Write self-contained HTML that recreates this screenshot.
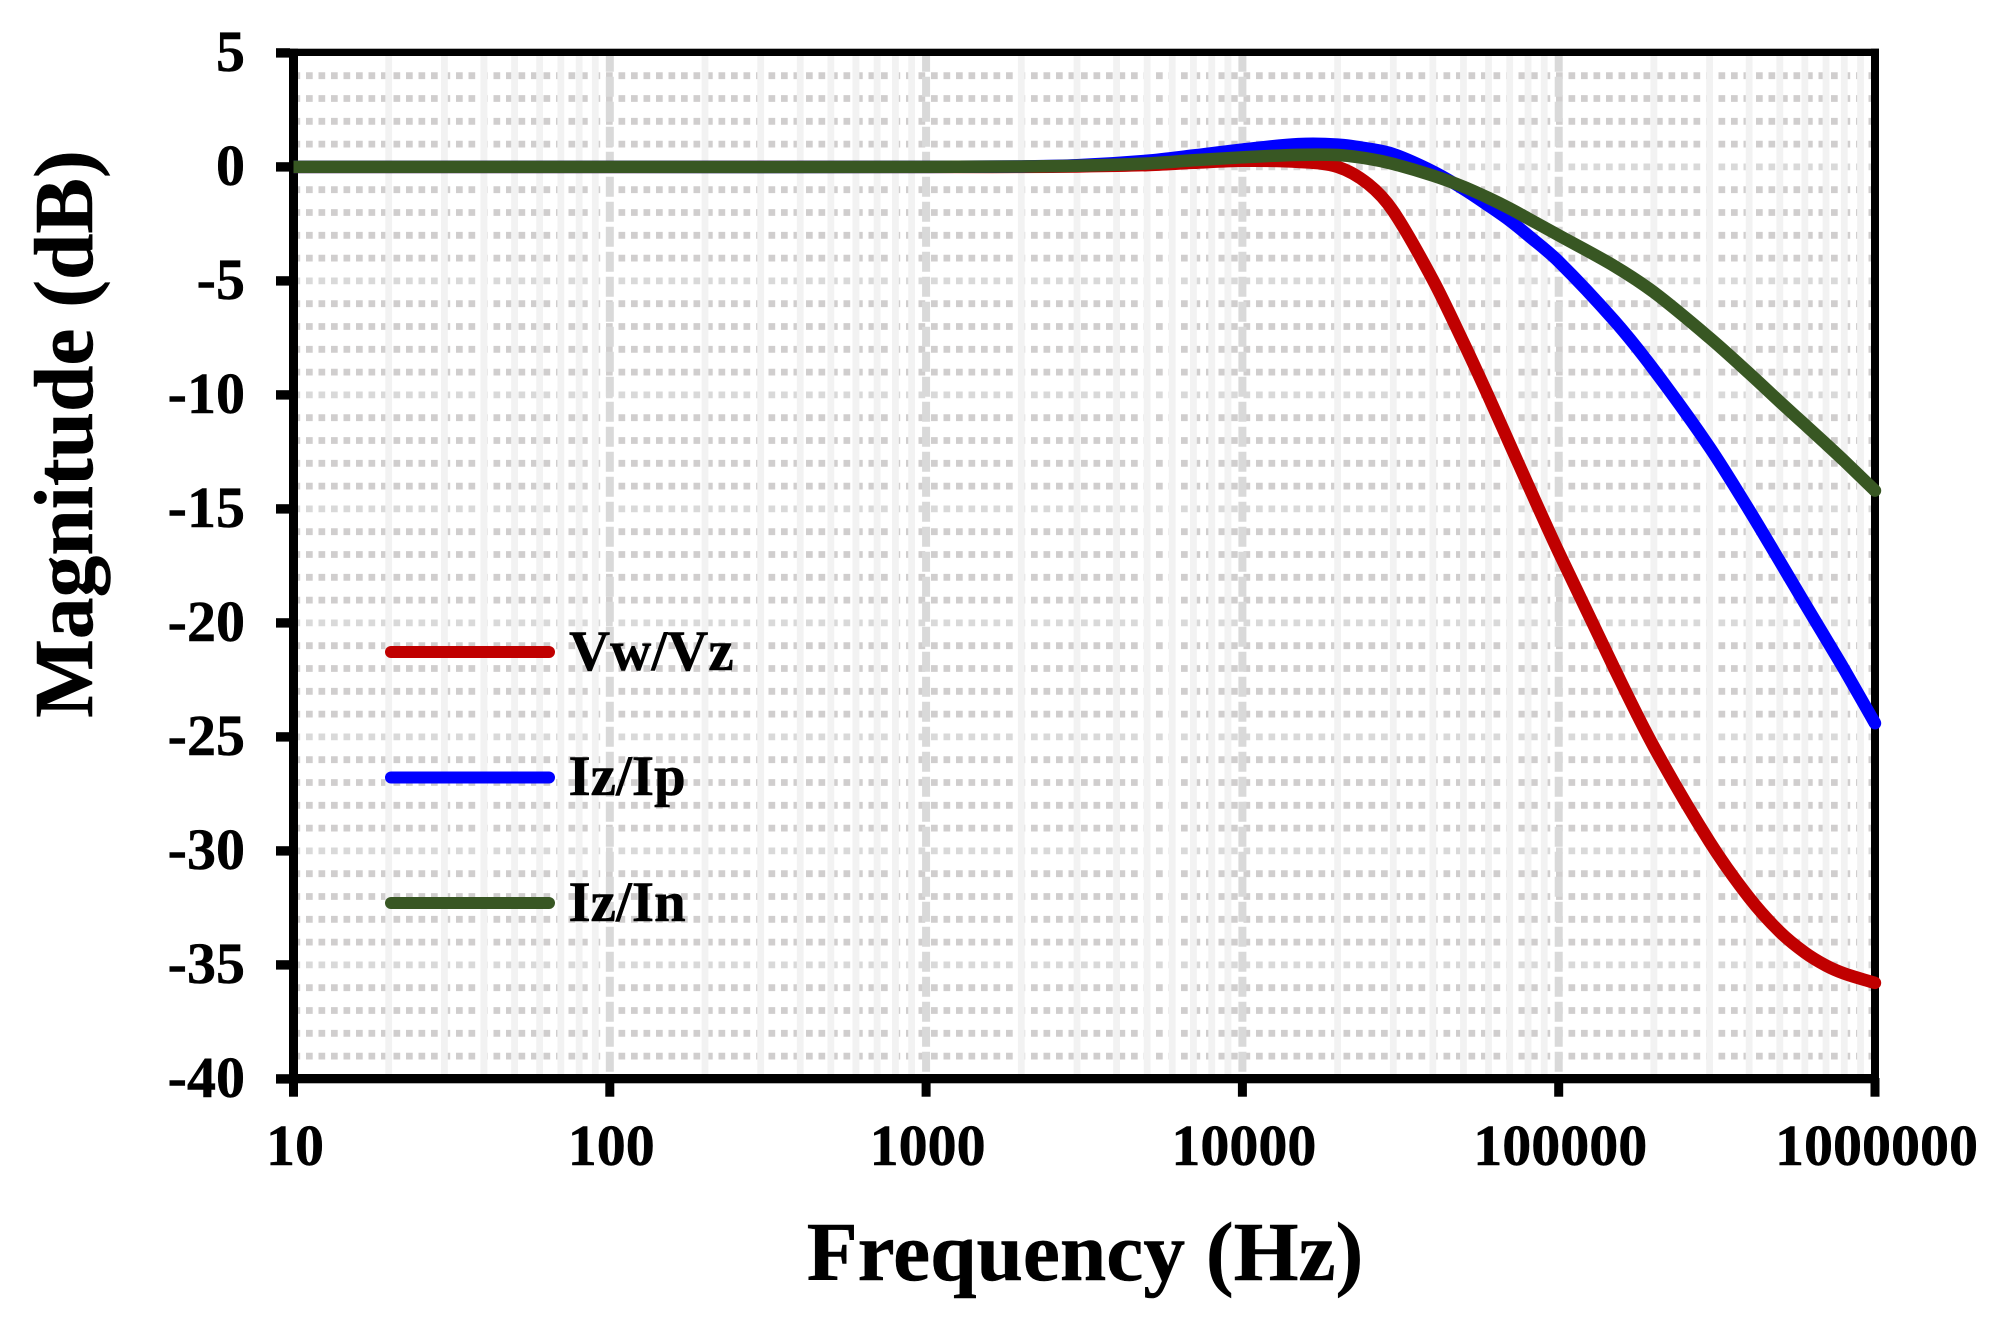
<!DOCTYPE html>
<html lang="en">
<head>
<meta charset="utf-8">
<title>Magnitude vs Frequency</title>
<style>
html,body{margin:0;padding:0;background:#fff;width:2013px;height:1331px;overflow:hidden}
svg{display:block}
text{font-family:"Liberation Serif",serif;font-weight:bold;fill:#000;stroke:#000;stroke-width:0.5px}
.tick-label{font-size:58px}
.legend-label{font-size:57px}
.axis-title{font-size:83.4px}
</style>
</head>
<body>
<svg id="chart" xmlns="http://www.w3.org/2000/svg" width="2013" height="1331" viewBox="0 0 2013 1331">
  <rect x="0" y="0" width="2013" height="1331" fill="#ffffff"/>
  <g id="grid-h"></g>
  <g id="grid-v"></g>
  <g id="axes"></g>
  <g id="labels"></g>
  <g id="series"></g>

  <g>
    <line x1="391" y1="652" x2="549" y2="652" stroke="#c00000" stroke-width="12" stroke-linecap="round"/>
    <text class="legend-label" x="569" y="670">Vw/Vz</text>
    <line x1="391" y1="777.5" x2="549" y2="777.5" stroke="#0000ff" stroke-width="12" stroke-linecap="round"/>
    <text class="legend-label" x="568.5" y="795">Iz/Ip</text>
    <line x1="391" y1="903" x2="549" y2="903" stroke="#385723" stroke-width="12" stroke-linecap="round"/>
    <text class="legend-label" x="568.5" y="921">Iz/In</text>
  </g>

  <text class="axis-title" x="1085" y="1280" text-anchor="middle">Frequency (Hz)</text>
  <text class="axis-title" transform="translate(92 434) rotate(-90)" text-anchor="middle">Magnitude (dB)</text>
</svg>

<script>
var frequencies = [10,100,1000,2000,3000,5000,7000,10000,15000,20000,25000,30000,40000,50000,60000,70000,80000,100000,150000,200000,300000,400000,500000,600000,700000,800000,1000000];
var vwVz = [0,0,0,0,0.02,0.08,0.18,0.27,0.22,0,-0.75,-1.95,-4.95,-7.7,-10.07,-12.15,-13.95,-16.9,-22,-25.44,-29.6,-32.05,-33.55,-34.46,-35.03,-35.38,-35.79];
var izIp = [0,0,0,0.02,0.07,0.27,0.5,0.76,1.0,0.98,0.8,0.56,-0.2,-0.97,-1.7,-2.35,-3,-4.15,-6.75,-8.9,-12.3,-15.05,-17.3,-19.15,-20.7,-22.05,-24.4];
var izIn = [0,0,0,0.02,0.05,0.15,0.29,0.42,0.53,0.52,0.36,0.13,-0.38,-0.87,-1.36,-1.82,-2.26,-3,-4.35,-5.5,-7.5,-9.05,-10.3,-11.3,-12.15,-12.9,-14.2];
var xTickLabels = ["10","100","1000","10000","100000","1000000"];
var yTickLabels = ["5","0","-5","-10","-15","-20","-25","-30","-35","-40"];

var NS = "http://www.w3.org/2000/svg";
function xScale(f){ return 293.5 + (Math.log10(f) - 1) * 316.3; }
function yScale(db){ return 166.9 - db * 22.8; }

function mk(parent, tag, attrs){
  var el = document.createElementNS(NS, tag);
  for (var k in attrs) el.setAttribute(k, attrs[k]);
  parent.appendChild(el);
  return el;
}

var gridH = document.getElementById("grid-h");
var gridV = document.getElementById("grid-v");
var axes = document.getElementById("axes");
var labels = document.getElementById("labels");
var seriesGroup = document.getElementById("series");

/* horizontal dotted gridlines every 1 dB */
for (var d = 4; d >= -39; d--) {
  var hl = mk(gridH, "line", {x1:293.5, x2:1871, y1:yScale(d), y2:yScale(d), stroke:(d % 5 === 0 ? "#d9d9d9" : "#d0cece"), "stroke-width":6.8, "stroke-dasharray":"6.7 5.8"});
  
  
}

/* minor vertical gridlines */
for (var e = 1; e < 6; e++) {
  for (var m = 2; m <= 9; m++) {
    var fm = m * Math.pow(10, e);
    var vl = mk(gridV, "line", {x1:xScale(fm), x2:xScale(fm), y1:56, y2:1074, stroke:"#f2f2f2", "stroke-width":6.8});
    
    
  }
}
/* major vertical gridlines */
for (var e2 = 2; e2 < 6; e2++) {
  var fM = Math.pow(10, e2);
  var vM = mk(gridV, "line", {x1:xScale(fM), x2:xScale(fM), y1:51.7, y2:1074, stroke:"#d9d9d9", "stroke-width":8, "stroke-dasharray":"20 5"});
  
  
}

/* frame */
var frameParts = [
  ["top-spine", 289, 48.7, 1590, 7.3],
  ["bottom-spine", 289, 1074, 1590, 9.3],
  ["left-spine", 289, 48.7, 9, 1034.6],
  ["right-spine", 1871, 48.7, 8, 1034.6]
];
frameParts.forEach(function(p){
  var r = mk(axes, "rect", {x:p[1], y:p[2], width:p[3], height:p[4], fill:"#000"});
  
  
});

/* y ticks + labels */
yTickLabels.forEach(function(lbl){
  var v = parseFloat(lbl);
  var yy = yScale(v);
  var t = mk(axes, "rect", {x:276, y:yy - 4.7, width:14, height:9.4, fill:"#000"});
  
  
  var tx = mk(labels, "text", {x:245, y:yy + 18, "text-anchor":"end", "class":"tick-label"});
  
  
  tx.textContent = lbl;
});

/* x ticks + labels */
xTickLabels.forEach(function(lbl){
  var xx = xScale(parseFloat(lbl));
  var t = mk(axes, "rect", {x:xx - 4.5, y:1078, width:9, height:18.7, fill:"#000"});
  
  
  var tx = mk(labels, "text", {x:xx + 1.5, y:1165, "text-anchor":"middle", "class":"tick-label"});
  
  
  tx.textContent = lbl;
});

/* smooth path through the data in axis space */
function smoothPath(vals){
  var pts = frequencies.map(function(f, i){ return [xScale(f), yScale(vals[i])]; });
  var d = "M" + pts[0][0].toFixed(2) + " " + pts[0][1].toFixed(2);
  for (var i = 0; i < pts.length - 1; i++) {
    var p0 = pts[Math.max(i - 1, 0)], p1 = pts[i], p2 = pts[i + 1], p3 = pts[Math.min(i + 2, pts.length - 1)];
    var h = p2[0] - p1[0];
    var m1 = (p2[1] - p0[1]) / (p2[0] - p0[0]);
    var m2 = (p3[1] - p1[1]) / (p3[0] - p1[0]);
    d += "C" + (p1[0] + h / 3).toFixed(2) + " " + (p1[1] + m1 * h / 3).toFixed(2) + " " +
         (p2[0] - h / 3).toFixed(2) + " " + (p2[1] - m2 * h / 3).toFixed(2) + " " +
         p2[0].toFixed(2) + " " + p2[1].toFixed(2);
  }
  return d;
}

function drawSeries(vals, color, name){
  var p = mk(seriesGroup, "path", {d:smoothPath(vals), fill:"none", stroke:color, "stroke-width":12.5, "stroke-linejoin":"round"});
  
  
  var last = vals.length - 1;
  var c = mk(seriesGroup, "circle", {cx:xScale(frequencies[last]), cy:yScale(vals[last]), r:6.2, fill:color});
  
  
}
drawSeries(vwVz, "#c00000", "series-vw-vz");
drawSeries(izIp, "#0000ff", "series-iz-ip");
drawSeries(izIn, "#385723", "series-iz-in");
</script>
</body>
</html>
